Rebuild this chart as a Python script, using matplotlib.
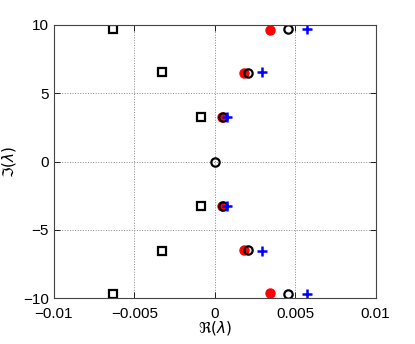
import matplotlib
matplotlib.use("Agg")
import matplotlib.pyplot as plt

# data
sq_x = [-0.00635, -0.00326, -0.00088, -0.00088, -0.00326, -0.00635]
sq_y = [9.71, 6.54, 3.27, -3.27, -6.54, -9.71]
red_x = [0.00344, 0.0018, 0.00045, 0.00045, 0.0018, 0.00344]
red_y = [9.64, 6.5, 3.27, -3.27, -6.5, -9.64]
circ_x = [0.00454, 0.00209, 0.0005, 0.0, 0.0005, 0.00209, 0.00454]
circ_y = [9.71, 6.5, 3.27, 0.0, -3.27, -6.5, -9.71]
plus_x = [0.00574, 0.00294, 0.00078, 0.00078, 0.00294, 0.00574]
plus_y = [9.71, 6.54, 3.27, -3.27, -6.54, -9.71]
xticks = [-0.01, -0.005, 0, 0.005, 0.01]
xticklabels = ["\u22120.01", "\u22120.005", "0", "0.005", "0.01"]
yticks = [-10, -5, 0, 5, 10]
yticklabels = ["\u221210", "\u22125", "0", "5", "10"]

plt.rcParams['font.family'] = ['Liberation Sans', 'DejaVu Sans']
fig = plt.figure(figsize=(4.15, 3.44), dpi=100)
ax = fig.add_axes([0.130, 0.133, 0.775, 0.795])

ax.plot(sq_x, sq_y, ls='none', marker='s', ms=5.5, mfc='white', mec='black', mew=1.6)
ax.plot(red_x, red_y, ls='none', marker='o', ms=6.5, mfc='red', mec='red')
ax.plot(circ_x, circ_y, ls='none', marker='o', ms=6, mfc='none', mec='black', mew=1.6)
ax.plot(plus_x, plus_y, ls='none', marker='+', ms=7, mec='blue', mew=1.8)

ax.set_xlim(-0.01, 0.01)
ax.set_ylim(-10, 10)
ax.set_xticks(xticks)
ax.set_xticklabels(xticklabels)
ax.set_yticks(yticks)
ax.set_yticklabels(yticklabels)
ax.tick_params(direction='in', top=True, right=True, labelsize=11, length=4, width=0.6)
ax.tick_params(axis='x', pad=6)
ax.grid(True, ls=':', color='#888888', lw=0.7)
for s in ax.spines.values():
    s.set_linewidth(0.8)
    s.set_color('#444444')
ax.set_xlabel(r'$\Re(\lambda)$', fontsize=11, labelpad=-1)
ax.set_ylabel(r'$\Im(\lambda)$', fontsize=11, labelpad=4)

fig.savefig('out.png', dpi=100)
